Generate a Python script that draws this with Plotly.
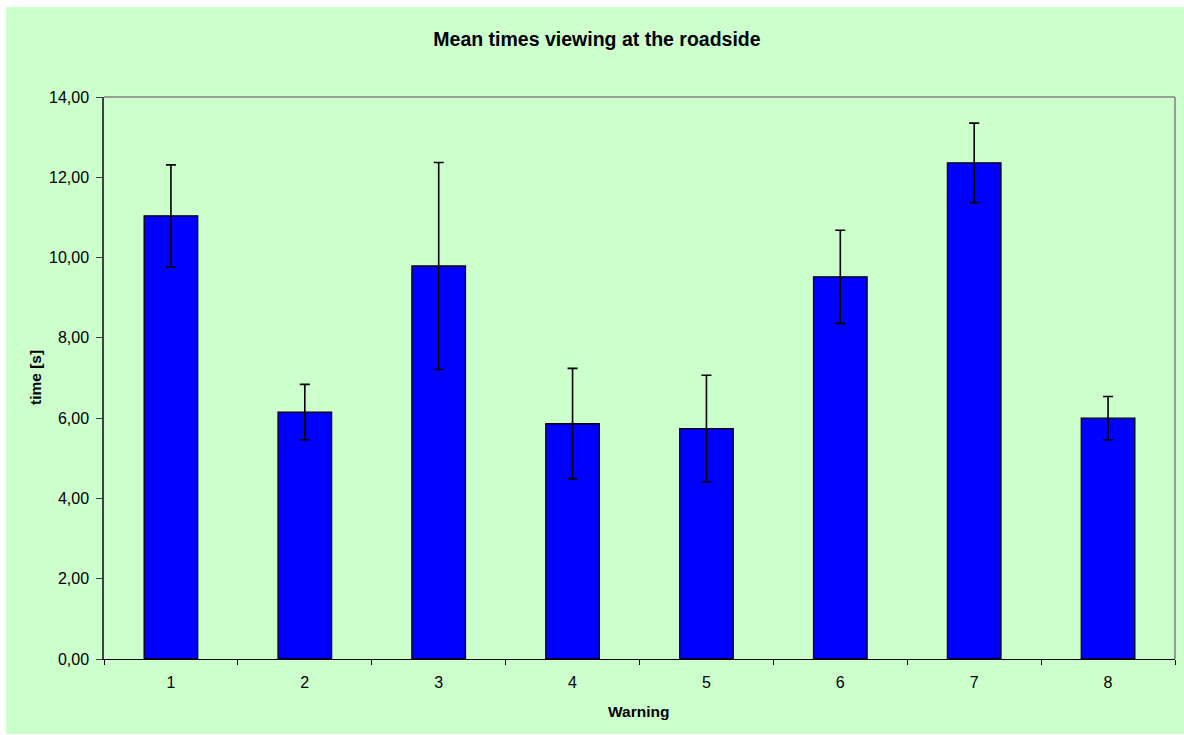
import plotly.graph_objects as go

warnings = ["1", "2", "3", "4", "5", "6", "7", "8"]
mean_time = [11.04, 6.15, 9.79, 5.86, 5.74, 9.52, 12.36, 6.00]
error = [1.27, 0.69, 2.58, 1.38, 1.33, 1.16, 0.99, 0.54]
y_ticks = [0, 2, 4, 6, 8, 10, 12, 14]

GREEN = "#CCFFCC"
FONT = "Liberation Sans, Arial, sans-serif"

fig = go.Figure()
fig.add_trace(go.Bar(
    x=warnings, y=mean_time,
    marker=dict(color="#0000FF", line=dict(color="black", width=1.3)),
    error_y=dict(type="data", array=error, visible=True, color="black",
                 thickness=1.6, width=5),
    hoverinfo="skip",
))

W, H = 1184, 735
L, R, T, B = 104, 9, 97, 76
pw, ph = W - L - R, H - T - B

def px_x(p):
    return (p - L) / pw

def px_y(p):
    return (H - B - p) / ph

fig.update_layout(
    width=W, height=H,
    margin=dict(l=L, r=R, t=T, b=B, pad=0),
    paper_bgcolor="white",
    plot_bgcolor=GREEN,
    separators=",.",
    bargap=0.6,
    showlegend=False,
    font=dict(family=FONT, size=16, color="black"),
    title=dict(text="<b>Mean times viewing at the roadside</b>",
               x=597 / W, xanchor="center", y=1 - 39 / H, yanchor="middle",
               font=dict(family=FONT, size=19.5, color="black")),
    shapes=[
        dict(type="rect", xref="paper", yref="paper", layer="below",
             x0=px_x(6), x1=px_x(1184), y0=px_y(734), y1=px_y(7),
             fillcolor=GREEN, line=dict(width=0)),
        dict(type="line", xref="paper", yref="paper",
             x0=0, x1=1, y0=1, y1=1, line=dict(color="#808080", width=1.5)),
        dict(type="line", xref="paper", yref="paper",
             x0=1, x1=1, y0=0, y1=1, line=dict(color="#808080", width=1.5)),
    ],
    annotations=[
        dict(text="<b>time [s]</b>", xref="paper", yref="paper",
             x=px_x(35), y=px_y(378), textangle=-90, showarrow=False,
             xanchor="center", yanchor="middle",
             font=dict(family=FONT, size=15.5, color="black")),
        dict(text="<b>Warning</b>", xref="paper", yref="paper",
             x=px_x(638), y=px_y(711), showarrow=False,
             xanchor="center", yanchor="middle",
             font=dict(family=FONT, size=15.5, color="black")),
    ],
)

fig.update_xaxes(
    type="category", showgrid=False, showline=True, linecolor="black",
    linewidth=1.3, ticks="outside", tickson="boundaries", ticklen=5,
    tickcolor="black", tickwidth=1, tickfont=dict(family=FONT, size=16),
    ticklabelstandoff=9,
)
fig.update_yaxes(
    range=[0, 14], tickvals=y_ticks, tickformat=".2f", showgrid=False,
    showline=True, linecolor="#404040", linewidth=1.5, ticks="outside",
    ticklen=6, tickcolor="#404040", tickwidth=1,
    tickfont=dict(family=FONT, size=16), zeroline=False,
    ticklabelstandoff=4,
)

fig.write_html(
    "out.html",
    config={"displayModeBar": False},
    post_script="document.body.style.margin='0px';document.body.style.overflow='hidden';",
)
